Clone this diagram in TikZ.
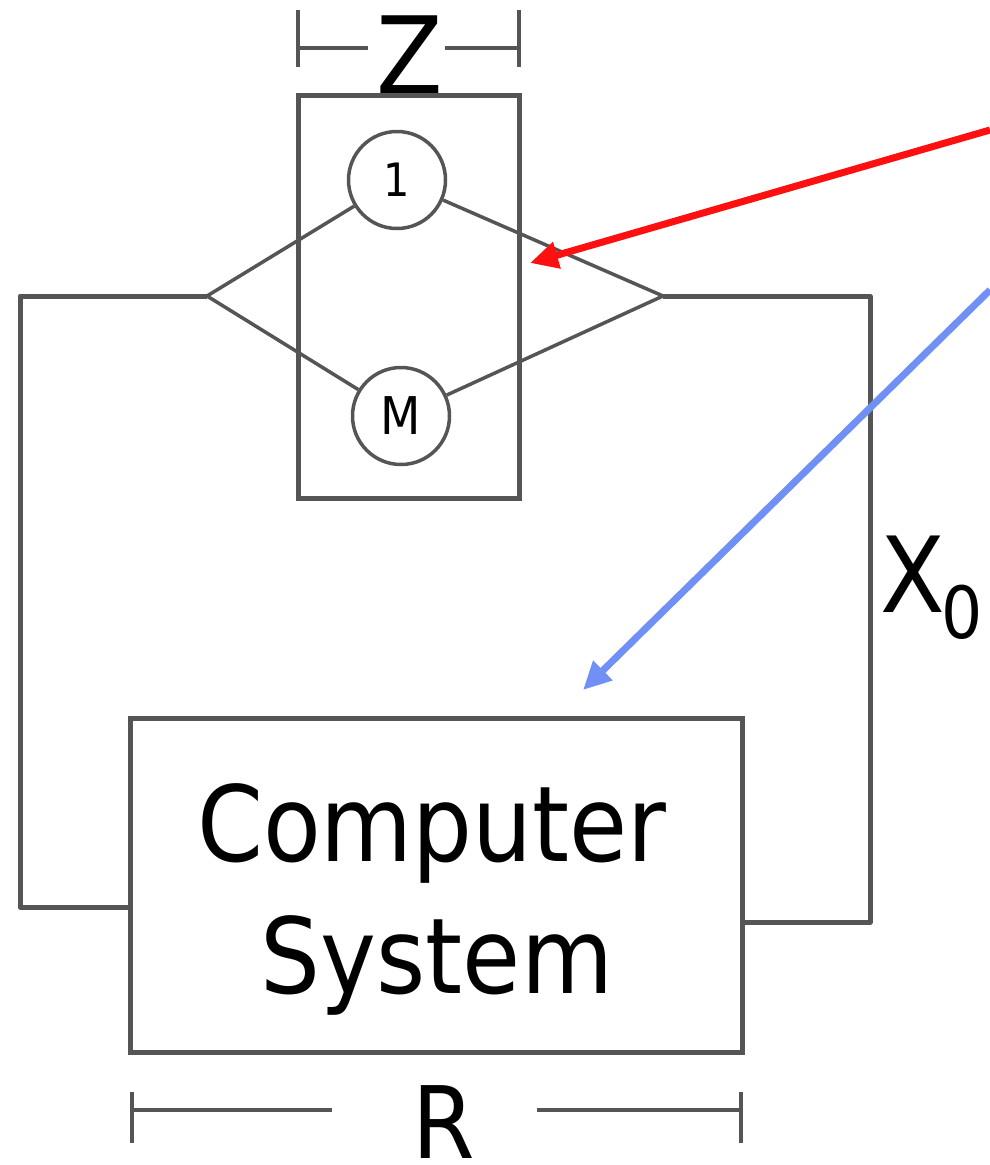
\documentclass[tikz,border=0pt]{standalone}
\usepackage{fontspec}
\setmainfont{DejaVu Sans Condensed}
\usetikzlibrary{arrows.meta}
\definecolor{wire}{HTML}{555555}
\definecolor{redarr}{HTML}{FF1010}
\definecolor{bluearr}{HTML}{7090F5}
\tikzset{
  wireline/.style={draw=wire, line width=5pt, line join=round},
  thinline/.style={draw=wire, line width=3.5pt},
  ring/.style={circle, draw=wire, line width=3.5pt, minimum size=97pt, inner sep=0pt, fill=white},
  bigtxt/.style={inner sep=0pt, font=\fontsize{105}{120}\selectfont},
  pointer/.style={line width=7pt, -{Triangle[length=28pt,width=26pt]}}
}
\begin{document}
\begin{tikzpicture}[x=1pt,y=-1pt]
\useasboundingbox (0,0) rectangle (990,1165);
% Z dimension
\node[bigtxt, font=\fontsize{108}{120}\selectfont] (zl) at (410,55) {Z};
\coordinate (za) at (298,48);
\coordinate (zb) at (519,48);
\draw[wireline, line width=4pt] (298,10) -- (298,67);
\draw[wireline, line width=4pt] (519,10) -- (519,67);
\draw[wireline, line width=4pt] (za) -- (368,48);
\draw[wireline, line width=4pt] (445,48) -- (zb);
% Z box
\node[draw=wire, line width=5pt, minimum width=221pt, minimum height=403pt, inner sep=0pt] (zbox) at (408.5,296.5) {};
% vertices
\coordinate (lv) at (207,296);
\coordinate (rv) at (663,296);
% circles
\node[ring] (c1) at (397,180) {\fontsize{46}{60}\selectfont 1};
\node[ring] (cm) at (401,416) {\fontsize{52}{60}\selectfont M};
\draw[thinline] (lv) -- (c1);
\draw[thinline] (lv) -- (cm);
\draw[thinline] (c1) -- (rv);
\draw[thinline] (cm) -- (rv);
% computer system box
\node[draw=wire, line width=5pt, minimum width=612pt, minimum height=334pt, inner sep=0pt] (cs) at (436,885) {};
\node[bigtxt] (t1) at (432,833) {Computer};
\node[bigtxt] (t2) at (437,965) {System};
% wires
\coordinate (lw1) at (20,296);
\coordinate (lw2) at (20,907);
\coordinate (lw3) at (130,907);
\coordinate (rw1) at (870,296);
\coordinate (rw2) at (870,922);
\coordinate (rw3) at (742,922);
\draw[wireline] (lv) -- (lw1) -- (lw2) -- (lw3);
\draw[wireline] (rv) -- (rw1) -- (rw2) -- (rw3);
% X0
\node[bigtxt, anchor=base west] (xl) at (880,612) {X};
\node[inner sep=0pt, anchor=base west, font=\fontsize{72}{80}\selectfont] (x0) at (xl.base east) [yshift=-26pt, xshift=-4pt] {0};
% R dimension
\node[bigtxt, font=\fontsize{100}{120}\selectfont, anchor=north] (rl) at (444,1085) {R};
\draw[wireline, line width=4pt] (132,1092) -- (132,1143);
\draw[wireline, line width=4pt] (741,1092) -- (741,1143);
\draw[wireline, line width=4pt] (132,1110) -- (332,1110);
\draw[wireline, line width=4pt] (537,1110) -- (741,1110);
% arrows
\coordinate (rs) at (990,130);
\coordinate (re) at (530,263);
\coordinate (bs) at (990,290);
\coordinate (be) at (583,690);
\draw[pointer, draw=redarr, fill=redarr] (rs) -- (re);
\draw[pointer, draw=bluearr, fill=bluearr] (bs) -- (be);
\end{tikzpicture}
\end{document}
